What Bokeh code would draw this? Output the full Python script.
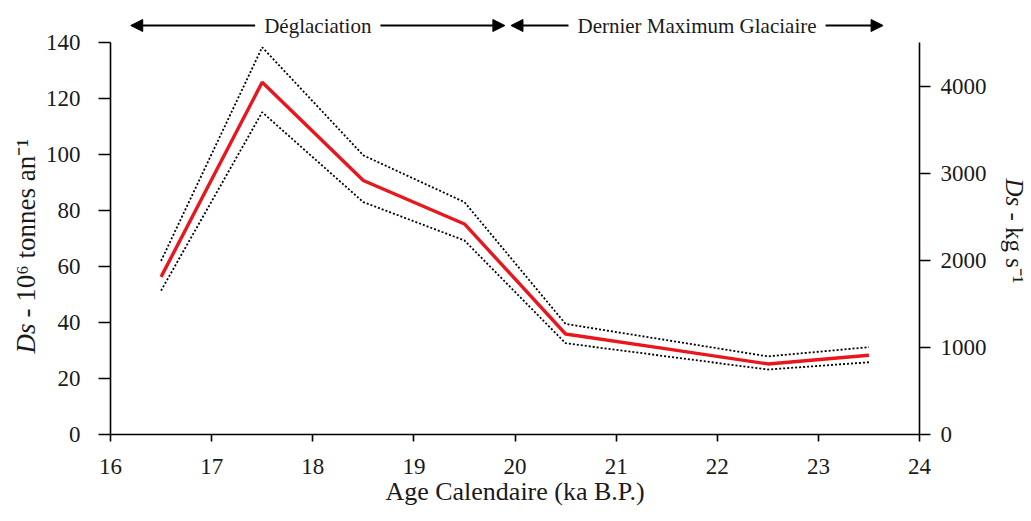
from math import pi
from bokeh.plotting import figure
from bokeh.models import Range1d, LinearAxis, FixedTicker, Arrow, NormalHead, Label
from bokeh.embed import file_html
from bokeh.resources import INLINE

# ---- data ----
ages = [16.5, 17.5, 18.5, 19.5, 20.5, 21.5, 22.5, 23.5]
ds_mean = [56.3, 125.8, 90.7, 75.2, 35.9, 30.6, 25.2, 28.3]
ds_upper = [62.0, 138.3, 99.7, 83.0, 39.5, 33.7, 27.9, 31.2]
ds_lower = [51.4, 115.1, 83.0, 69.3, 32.6, 27.9, 23.2, 25.8]

x_ticks = [16, 17, 18, 19, 20, 21, 22, 23, 24]
y_ticks = [0, 20, 40, 60, 80, 100, 120, 140]
kg_ticks = [0, 1000, 2000, 3000, 4000]
kg_per_unit = 32.2   # kg s-1 per 10^6 t an-1 (as drawn)

periods = ["Déglaciation", "Dernier Maximum Glaciaire"]
period_start = [16.2, 19.96]
period_end = [19.90, 23.64]

# ---- layout (the frame covers the whole canvas; axes sit at fixed locations) ----
W, H = 1031, 521
AX_L, AX_R, AX_B = 110, 919, 434      # pixel positions of the axis lines
px_x = (AX_R - AX_L) / (x_ticks[-1] - x_ticks[0])
px_y = 2.8
x_lo = x_ticks[0] - AX_L / px_x
x_hi = x_lo + W / px_x
y_hi = AX_B / px_y
y_lo = y_hi - H / px_y

def dx(page_x):
    return x_lo + page_x / px_x

def dy(page_y):
    return y_hi - page_y / px_y

FONT = "Liberation Serif"
TXT = "#1a1a1a"

p = figure(width=W, height=H, x_range=Range1d(x_lo, x_hi), y_range=Range1d(y_lo, y_hi),
           output_backend="svg", toolbar_location=None, min_border=0,
           x_axis_label="Age Calendaire (ka B.P.)")
p.extra_y_ranges = {"kg": Range1d(y_lo * kg_per_unit, y_hi * kg_per_unit)}
p.xgrid.visible = False
p.ygrid.visible = False
p.outline_line_color = None
p.background_fill_color = "white"
p.border_fill_color = "white"

def style_axis(ax, tick_out, standoff):
    ax.axis_line_color = "black"
    ax.axis_line_width = 1.6
    ax.major_tick_line_color = "black"
    ax.major_tick_line_width = 1.6
    ax.major_tick_in = 0
    ax.major_tick_out = tick_out
    ax.minor_tick_line_color = None
    ax.major_label_text_font = FONT
    ax.major_label_text_font_size = "23px"
    ax.major_label_text_color = TXT
    ax.major_label_standoff = standoff

xa = p.xaxis[0]
xa.fixed_location = y_ticks[0]
xa.ticker = FixedTicker(ticks=x_ticks)
xa.bounds = (x_ticks[0], x_ticks[-1])
style_axis(xa, 7, 17)
xa.axis_label_text_font = FONT
xa.axis_label_text_font_size = "26px"
xa.axis_label_text_font_style = "normal"
xa.axis_label_text_color = TXT
xa.axis_label_standoff = 0

ya = p.yaxis[0]
ya.fixed_location = x_ticks[0]
ya.ticker = FixedTicker(ticks=y_ticks)
ya.bounds = (y_ticks[0], y_ticks[-1])
style_axis(ya, 12, 18)

ra = LinearAxis(y_range_name="kg", fixed_location=x_ticks[-1],
                ticker=FixedTicker(ticks=kg_ticks),
                bounds=(0, y_ticks[-1] * kg_per_unit))
style_axis(ra, 11, 10)
p.add_layout(ra, "right")

# ---- series ----
p.line(ages, ds_upper, line_color="black", line_width=1.8, line_dash="2 2")
p.line(ages, ds_lower, line_color="black", line_width=1.8, line_dash="2 2")
p.line(ages, ds_mean, line_color="#e8161d", line_width=3.4)

# ---- period arrows ----
y_ar = dy(25)
for name, s, e in zip(periods, period_start, period_end):
    p.add_layout(Arrow(x_start=s, x_end=e, y_start=y_ar, y_end=y_ar,
                       start=NormalHead(size=12, fill_color="black", line_color="black"),
                       end=NormalHead(size=12, fill_color="black", line_color="black"),
                       line_color="black", line_width=1.8))
    p.add_layout(Label(x=(s + e) / 2, y=y_ar, text=name, text_align="center",
                       text_baseline="middle", text_font=FONT, text_font_size="21px",
                       text_color=TXT, background_fill_color="white", padding=9))

# ---- y axis titles (italic Ds) ----
left_parts = [("Ds", "italic", 353), ("- 10⁶ tonnes an⁻¹", "normal", 317)]
for t, st, py in left_parts:
    p.add_layout(Label(x=dx(25), y=dy(py), text=t, angle=pi / 2, text_align="left",
                       text_baseline="middle", text_font=FONT, text_font_size="27px",
                       text_font_style=st, text_color=TXT))

right_parts = [("Ds", "italic", 178), ("- kg s⁻¹", "normal", 212)]
for t, st, py in right_parts:
    p.add_layout(Label(x=dx(1014), y=dy(py), text=t, angle=-pi / 2, text_align="left",
                       text_baseline="middle", text_font=FONT, text_font_size="25px",
                       text_font_style=st, text_color=TXT))

open("out.html", "w").write(file_html(p, INLINE))
